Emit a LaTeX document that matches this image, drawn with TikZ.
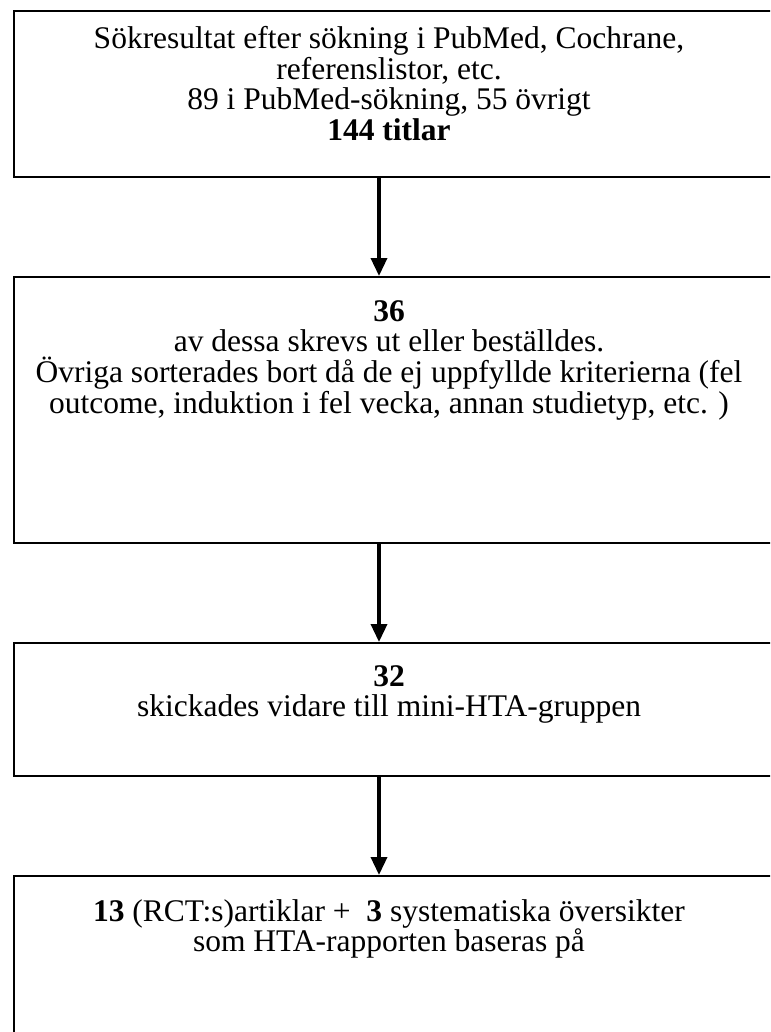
\documentclass[tikz,border=0pt]{standalone}
\usepackage{fontspec}
\setmainfont{Liberation Serif}
\usetikzlibrary{arrows.meta}
\usetikzlibrary{positioning}

\tikzset{
    stage/.style={draw, rectangle, line width=2pt, minimum width=776pt},
    stagetext/.style={anchor=north, align=center, inner sep=0pt,
        font=\fontsize{31.5}{30.7}\selectfont},
    flow/.style={line width=3.5pt, -{Triangle[width=16pt,length=18pt]}}
}

\begin{document}
\begin{tikzpicture}[x=1pt, y=-1pt]

        \useasboundingbox (0,0) rectangle (770,1032);
        \clip (0,0) rectangle (770,1032);

        % boxes
        \node[stage, minimum height=166pt] (search) at (402,94) {};
        \node[stage, minimum height=266pt] (sorted) at (402,410) {};
        \node[stage, minimum height=133pt] (sent) at (402,709.5) {};
        \node[stage, minimum height=174pt] (result) at (402,963) {};

        % texts
        \node[stagetext] (searchtxt) at (389,26) {S\"okresultat efter s\"okning i PubMed, Cochrane,\\
            referenslistor, etc.\\ 89 i PubMed-s\"okning, 55 \"ovrigt\\ \textbf{144 titlar}};
        \node[stagetext] (sortedtxt) at (389,300) {\textbf{36}\\
            av dessa skrevs ut eller best\"alldes.\\
            \"Ovriga sorterades bort d\aa{} de ej uppfyllde kriterierna (fel\\
            outcome, induktion i fel vecka, annan studietyp, etc. )};
        \node[stagetext] (senttxt) at (389,665) {\textbf{32}\\
            skickades vidare till mini-HTA-gruppen};
        \node[stagetext] (resulttxt) at (389,899) {\textbf{13} (RCT:s)artiklar +\ \ \textbf{3} systematiska \"oversikter\\
            som HTA-rapporten baseras p\aa};

        \coordinate (axis) at (379,0);

        \draw[flow] (axis |- search.south) -- (axis |- sorted.north);
        \draw[flow] (axis |- sorted.south) -- (axis |- sent.north);
        \draw[flow] (axis |- sent.south) -- (axis |- result.north);

\end{tikzpicture}
\end{document}
